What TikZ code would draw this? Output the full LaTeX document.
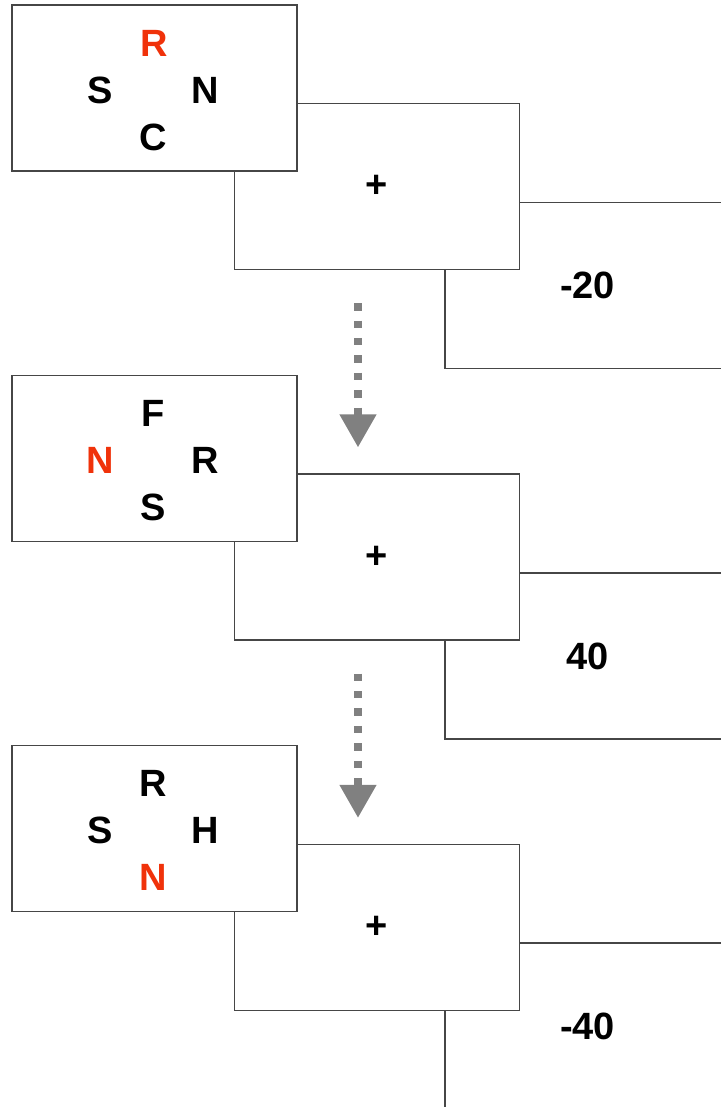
\documentclass[tikz,border=0pt]{standalone}
\usepackage{fontspec}
\setmainfont{Liberation Sans}
\usetikzlibrary{arrows.meta,positioning}
\definecolor{hotred}{RGB}{240,50,10}
\definecolor{edgegray}{RGB}{70,70,70}
\definecolor{flowgray}{RGB}{128,128,128}
\tikzset{panel/.style={draw=edgegray,fill=white,line width=0.6pt,minimum width=142.5pt,minimum height=83pt,inner sep=0pt,font=\fontsize{19}{19}\selectfont\bfseries},
    letter/.style={inner sep=0pt,font=\fontsize{19}{19}\selectfont\bfseries},
    hot/.style={letter,text=hotred},
    flow/.style={draw=flowgray,line width=3.7pt,dash pattern=on 3.7pt off 5pt,-{Triangle[width=17.5pt,length=16.5pt]}}}

\begin{document}
\begin{tikzpicture}[x=0.5pt,y=-0.5pt]
                \useasboundingbox (0,0) rectangle (720,1107);
                % first step
                \node[panel] (c1) at (587.5,285.5) {-20};
                \node[panel] (b1) at (377,186.5) {+};
                \node[panel] (a1) at (154.5,88) {};
                \node[hot] (a1t) at ([yshift=22.5pt]a1.center) {R};
                \node[letter] (a1l) at ([xshift=-27pt,yshift=-1pt]a1.center) {S};
                \node[letter] (a1r) at ([xshift=25.5pt,yshift=-1pt]a1.center) {N};
                \node[letter] (a1b) at ([xshift=-0.75pt,yshift=-24.5pt]a1.center) {C};
                % second step
                \node[panel] (c2) at (587.5,656) {40};
                \node[panel] (b2) at (377,557) {+};
                \node[panel] (a2) at (154.5,458.5) {};
                \node[letter] (a2t) at ([xshift=-0.75pt,yshift=22.5pt]a2.center) {F};
                \node[hot] (a2l) at ([xshift=-27pt,yshift=-1pt]a2.center) {N};
                \node[letter] (a2r) at ([xshift=25.5pt,yshift=-1pt]a2.center) {R};
                \node[letter] (a2b) at ([xshift=-0.75pt,yshift=-24.5pt]a2.center) {S};
                % third step
                \node[panel] (c3) at (587.5,1026) {-40};
                \node[panel] (b3) at (377,927.5) {+};
                \node[panel] (a3) at (154.5,828.5) {};
                \node[letter] (a3t) at ([xshift=-0.75pt,yshift=22.5pt]a3.center) {R};
                \node[letter] (a3l) at ([xshift=-27pt,yshift=-1pt]a3.center) {S};
                \node[letter] (a3r) at ([xshift=25.5pt,yshift=-1pt]a3.center) {H};
                \node[hot] (a3b) at ([xshift=-0.75pt,yshift=-24.5pt]a3.center) {N};
                % dotted arrows between steps
                \foreach \i/\j in {1/2,2/3} {
                    \draw[flow] ([xshift=-9.5pt,yshift=-16.5pt]b\i.south) -- ([xshift=-9.5pt,yshift=13pt]b\j.north);
                }
\end{tikzpicture}
\end{document}
